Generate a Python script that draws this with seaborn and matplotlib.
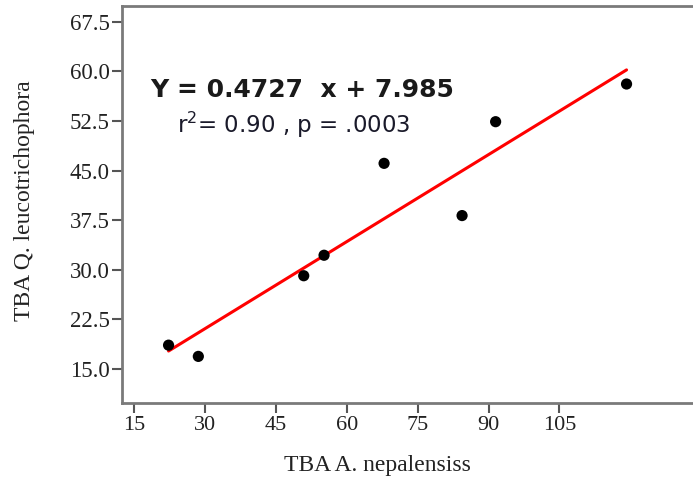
import matplotlib
matplotlib.use("Agg")
import matplotlib.pyplot as plt
import seaborn as sns
import pandas as pd

# Data
tba_nepalensis = [22.3, 28.6, 50.9, 55.2, 67.9, 84.4, 91.5, 119.2]
tba_leucotrichophora = [18.6, 16.9, 29.1, 32.2, 46.1, 38.2, 52.4, 58.1]
x_ticks = [15, 30, 45, 60, 75, 90, 105]
y_ticks = [15.0, 22.5, 30.0, 37.5, 45.0, 52.5, 60.0, 67.5]

df = pd.DataFrame({"x": tba_nepalensis, "y": tba_leucotrichophora})

sns.set_style("white")
plt.rcParams["font.family"] = ["DejaVu Sans"]

fig = plt.figure(figsize=(6.93, 4.83), dpi=100)
ax = fig.add_axes([122 / 693, 1 - 403 / 483, (705 - 122) / 693, (403 - 6) / 483])

sns.regplot(data=df, x="x", y="y", ax=ax, ci=None,
            scatter_kws=dict(color="black", s=65, edgecolor="none", alpha=1, zorder=3),
            line_kws=dict(color="#ff0000", lw=2.2, zorder=2))

ax.set_xlim(12.45, 135.8)
ax.set_ylim(9.85, 69.9)
ax.set_xticks(x_ticks)
ax.set_yticks(y_ticks)
ax.set_xticklabels([str(t) for t in x_ticks], family="Liberation Serif", fontsize=16, color="#222222")
ax.set_yticklabels([f"{t:.1f}" for t in y_ticks], family="Liberation Serif", fontsize=16.5, color="#222222")
ax.tick_params(axis="both", direction="out", length=7, width=1.5, color="#555555", pad=2,
               bottom=True, left=True)

for side in ["left", "bottom", "top"]:
    ax.spines[side].set_visible(True)
    ax.spines[side].set_color("#7a7a7a")
    ax.spines[side].set_linewidth(2.0)
ax.spines["right"].set_visible(False)

ax.set_xlabel("")
ax.set_ylabel("")
fig.text(377 / 693, 1 - 465 / 483, "TBA A. nepalensiss", family="Liberation Serif",
         fontsize=17, color="#222222", ha="center", va="center")
fig.text(25 / 693, 1 - 201 / 483, "TBA Q. leucotrichophora", family="Liberation Serif",
         fontsize=17, color="#222222", ha="center", va="center", rotation=90)

fig.text(150 / 693, 1 - 90 / 483, "Y = 0.4727  x + 7.985", fontsize=18, fontweight="bold",
         color="#1a1a1a", ha="left", va="center")
fig.text(177 / 693, 1 - 125 / 483, "r$^2$= 0.90 , p = .0003", fontsize=16.5,
         color="#1a1a2a", ha="left", va="center")

fig.savefig("out.png", dpi=100)
